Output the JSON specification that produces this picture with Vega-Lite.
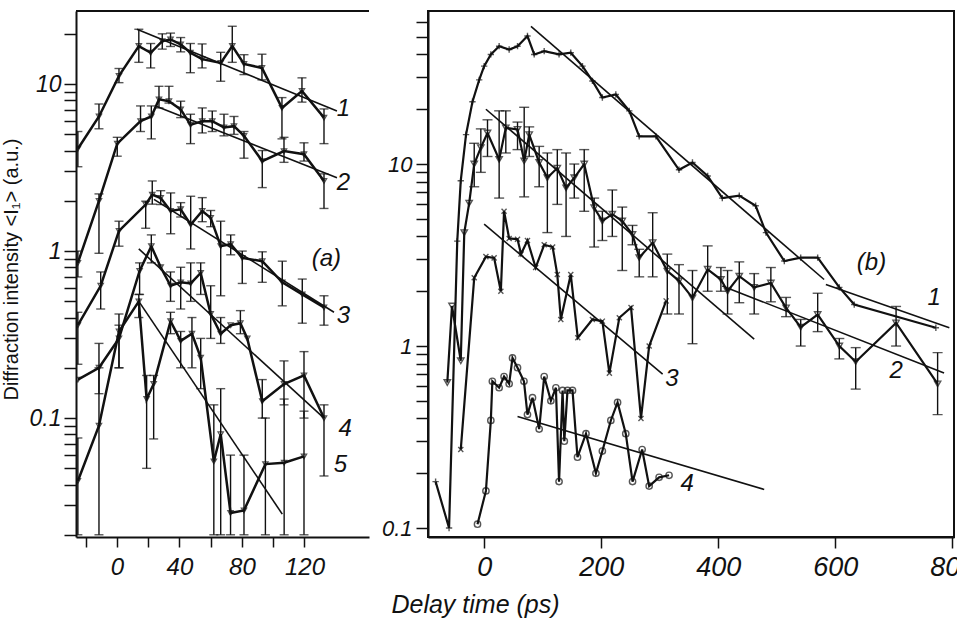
{
  "$schema": "https://vega.github.io/schema/vega-lite/v6.json",
  "background": "white",
  "padding": {"left": 1, "top": 10, "right": 0, "bottom": 0},
  "config": {
    "view": {"stroke": null},
    "axis": {"domainColor": "#111", "tickColor": "#111", "labelColor": "#111", "titleColor": "#111", "grid": false, "labelFont": "Liberation Sans", "titleFont": "Liberation Sans", "domainWidth": 2, "tickWidth": 1.5, "labelOverlap": false, "titleFontWeight": "normal"},
    "text": {"font": "Liberation Sans"}
  },
  "datasets": {
    "a": [
      {"s":"a1","x":-25,"y":4.1,"lo":3.2,"hi":5.2},
      {"s":"a1","x":-11.5,"y":6.4,"lo":5.4,"hi":7.6},
      {"s":"a1","x":1.3,"y":11.2,"lo":10.2,"hi":12.4},
      {"s":"a1","x":14,"y":16.9,"lo":13.5,"hi":21.3},
      {"s":"a1","x":21.6,"y":15.4,"lo":12.5,"hi":17.5},
      {"s":"a1","x":29,"y":18.1,"lo":16.2,"hi":20},
      {"s":"a1","x":34.3,"y":18.5,"lo":16.8,"hi":20.2},
      {"s":"a1","x":40.8,"y":17.3,"lo":15.6,"hi":19},
      {"s":"a1","x":47,"y":15.4,"lo":11.7,"hi":17.5},
      {"s":"a1","x":54.5,"y":14.1,"lo":12.5,"hi":17.4},
      {"s":"a1","x":66.4,"y":13.4,"lo":10.4,"hi":15.5},
      {"s":"a1","x":73.8,"y":16.9,"lo":13.5,"hi":22.2},
      {"s":"a1","x":81.3,"y":13.2,"lo":11.4,"hi":15},
      {"s":"a1","x":92.8,"y":12.5,"lo":10.6,"hi":15.1},
      {"s":"a1","x":105.6,"y":7.2,"lo":4.7,"hi":8.3},
      {"s":"a1","x":118.4,"y":9.1,"lo":7.8,"hi":10.9},
      {"s":"a1","x":132.5,"y":6.3,"lo":4.4,"hi":7.1},
      {"s":"a2","x":-25,"y":0.85,"lo":0.7,"hi":1.0},
      {"s":"a2","x":-11.5,"y":2.0,"lo":0.97,"hi":2.2},
      {"s":"a2","x":0.2,"y":4.4,"lo":3.7,"hi":4.8},
      {"s":"a2","x":15.1,"y":6.0,"lo":5.2,"hi":7.4},
      {"s":"a2","x":22,"y":6.4,"lo":4.7,"hi":7.4},
      {"s":"a2","x":26.9,"y":8.1,"lo":7.2,"hi":9.7},
      {"s":"a2","x":33.3,"y":7.9,"lo":7.7,"hi":9.7},
      {"s":"a2","x":40.8,"y":7.05,"lo":6.3,"hi":7.9},
      {"s":"a2","x":47.1,"y":5.7,"lo":4.4,"hi":6.6},
      {"s":"a2","x":54.6,"y":6.0,"lo":5.1,"hi":7.2},
      {"s":"a2","x":61,"y":6.0,"lo":5.2,"hi":6.9},
      {"s":"a2","x":68.5,"y":5.5,"lo":4.9,"hi":6.6},
      {"s":"a2","x":74.9,"y":5.6,"lo":5.0,"hi":6.4},
      {"s":"a2","x":81.3,"y":4.9,"lo":3.6,"hi":5.2},
      {"s":"a2","x":93,"y":3.46,"lo":2.4,"hi":4.0},
      {"s":"a2","x":106.9,"y":3.97,"lo":3.4,"hi":4.8},
      {"s":"a2","x":119.7,"y":3.8,"lo":3.46,"hi":4.45},
      {"s":"a2","x":132.5,"y":2.63,"lo":1.8,"hi":2.9},
      {"s":"a3","x":-25,"y":0.36,"lo":0.21,"hi":0.43},
      {"s":"a3","x":-10.4,"y":0.62,"lo":0.45,"hi":0.75},
      {"s":"a3","x":1.3,"y":1.32,"lo":1.07,"hi":1.51},
      {"s":"a3","x":18.4,"y":1.9,"lo":1.37,"hi":1.99},
      {"s":"a3","x":22.6,"y":2.18,"lo":1.91,"hi":2.63},
      {"s":"a3","x":28,"y":2.08,"lo":1.9,"hi":2.3},
      {"s":"a3","x":34.4,"y":1.74,"lo":1.27,"hi":2.23},
      {"s":"a3","x":40.8,"y":1.78,"lo":1.6,"hi":1.95},
      {"s":"a3","x":47.2,"y":1.44,"lo":1.03,"hi":2.13},
      {"s":"a3","x":54.6,"y":1.74,"lo":1.5,"hi":2.09},
      {"s":"a3","x":60,"y":1.58,"lo":1.4,"hi":1.75},
      {"s":"a3","x":66.4,"y":1.07,"lo":0.54,"hi":1.51},
      {"s":"a3","x":72.8,"y":1.1,"lo":0.95,"hi":1.25},
      {"s":"a3","x":80.2,"y":0.91,"lo":0.64,"hi":1.0},
      {"s":"a3","x":93,"y":0.87,"lo":0.65,"hi":0.99},
      {"s":"a3","x":105.8,"y":0.65,"lo":0.47,"hi":0.87},
      {"s":"a3","x":118.6,"y":0.55,"lo":0.37,"hi":0.68},
      {"s":"a3","x":132.5,"y":0.46,"lo":0.36,"hi":0.54},
      {"s":"a4","x":-25,"y":0.17},
      {"s":"a4","x":-11.5,"y":0.2,"lo":0.14,"hi":0.28},
      {"s":"a4","x":1.3,"y":0.3,"lo":0.2,"hi":0.36},
      {"s":"a4","x":14.5,"y":0.76,"lo":0.55,"hi":0.85},
      {"s":"a4","x":22,"y":1.07,"lo":0.85,"hi":1.25},
      {"s":"a4","x":28,"y":0.8},
      {"s":"a4","x":34.3,"y":0.62,"lo":0.5,"hi":0.75},
      {"s":"a4","x":40.8,"y":0.65,"lo":0.45,"hi":0.8},
      {"s":"a4","x":47.2,"y":0.64,"lo":0.5,"hi":0.85},
      {"s":"a4","x":53.6,"y":0.74,"lo":0.55,"hi":0.85},
      {"s":"a4","x":60,"y":0.42,"lo":0.3,"hi":0.62},
      {"s":"a4","x":66.4,"y":0.32,"lo":0.28,"hi":0.4},
      {"s":"a4","x":72.8,"y":0.36},
      {"s":"a4","x":79,"y":0.37,"lo":0.32,"hi":0.44},
      {"s":"a4","x":83.4,"y":0.3},
      {"s":"a4","x":93,"y":0.126,"lo":0.1,"hi":0.17},
      {"s":"a4","x":106.9,"y":0.16,"lo":0.12,"hi":0.22},
      {"s":"a4","x":119.7,"y":0.18,"lo":0.1,"hi":0.25},
      {"s":"a4","x":132.5,"y":0.1,"lo":0.045,"hi":0.12},
      {"s":"a5","x":-25,"y":0.042,"lo":0.02,"hi":0.076},
      {"s":"a5","x":-11.5,"y":0.09,"lo":0.02,"hi":0.2},
      {"s":"a5","x":1.3,"y":0.33,"lo":0.2,"hi":0.42},
      {"s":"a5","x":14,"y":0.5,"lo":0.4,"hi":0.55},
      {"s":"a5","x":19,"y":0.13,"lo":0.05,"hi":0.18},
      {"s":"a5","x":23.5,"y":0.16,"lo":0.075,"hi":0.18},
      {"s":"a5","x":34.3,"y":0.38,"lo":0.32,"hi":0.43},
      {"s":"a5","x":40.8,"y":0.29,"lo":0.2,"hi":0.33},
      {"s":"a5","x":48,"y":0.32,"lo":0.2,"hi":0.4},
      {"s":"a5","x":53.6,"y":0.23,"lo":0.15,"hi":0.3},
      {"s":"a5","x":62,"y":0.055,"lo":0.02,"hi":0.12},
      {"s":"a5","x":66.4,"y":0.08,"lo":0.02,"hi":0.15},
      {"s":"a5","x":72.7,"y":0.027,"lo":0.02,"hi":0.06},
      {"s":"a5","x":81.3,"y":0.028,"lo":0.02,"hi":0.06},
      {"s":"a5","x":95,"y":0.053,"lo":0.02,"hi":0.1},
      {"s":"a5","x":107,"y":0.054,"lo":0.02,"hi":0.13},
      {"s":"a5","x":119.7,"y":0.059,"lo":0.02,"hi":0.11}
    ],
    "afit": [
      {"f":"1","x":12.8,"y":21.3},{"f":"1","x":140.8,"y":6.9},
      {"f":"2","x":24.7,"y":7.4},{"f":"2","x":140.8,"y":2.75},
      {"f":"3","x":23.7,"y":2.04},{"f":"3","x":138.9,"y":0.43},
      {"f":"4","x":14,"y":1.03},{"f":"4","x":132.5,"y":0.1},
      {"f":"5","x":14,"y":0.5},{"f":"5","x":105.8,"y":0.0266}
    ],
    "alab": [
      {"t":"1","x":145,"y":7.1},
      {"t":"2","x":145,"y":2.55},
      {"t":"3","x":145,"y":0.41},
      {"t":"4","x":146,"y":0.086},
      {"t":"5","x":143,"y":0.052},
      {"t":"(a)","x":134,"y":0.9}
    ],
    "b": [
      {"s":"b1","x":-83,"y":0.18},
      {"s":"b1","x":-60,"y":0.1},
      {"s":"b1","x":-46,"y":3.77},
      {"s":"b1","x":-40,"y":8.1},
      {"s":"b1","x":-31,"y":14.5},
      {"s":"b1","x":-20,"y":22},
      {"s":"b1","x":-8.5,"y":29},
      {"s":"b1","x":0,"y":34.5},
      {"s":"b1","x":11.4,"y":40},
      {"s":"b1","x":25.6,"y":44.4},
      {"s":"b1","x":42.7,"y":42.6},
      {"s":"b1","x":57,"y":44.4},
      {"s":"b1","x":74,"y":50.5},
      {"s":"b1","x":85.5,"y":40},
      {"s":"b1","x":102.6,"y":41.7},
      {"s":"b1","x":128,"y":40},
      {"s":"b1","x":148,"y":40.9},
      {"s":"b1","x":168,"y":34.5},
      {"s":"b1","x":185,"y":28.6},
      {"s":"b1","x":202,"y":23.2},
      {"s":"b1","x":225,"y":24.1},
      {"s":"b1","x":248,"y":19.6},
      {"s":"b1","x":265,"y":14.2},
      {"s":"b1","x":293.5,"y":14.2},
      {"s":"b1","x":333,"y":9.3},
      {"s":"b1","x":356,"y":10.2},
      {"s":"b1","x":382,"y":8.6},
      {"s":"b1","x":407,"y":6.5},
      {"s":"b1","x":436,"y":6.7},
      {"s":"b1","x":464,"y":5.9},
      {"s":"b1","x":481.6,"y":4.2},
      {"s":"b1","x":513,"y":2.93},
      {"s":"b1","x":541,"y":3.06},
      {"s":"b1","x":570,"y":3.06},
      {"s":"b1","x":607,"y":2.1},
      {"s":"b1","x":632.5,"y":1.69},
      {"s":"b1","x":772,"y":1.26},
      {"s":"b2","x":-63,"y":0.63},
      {"s":"b2","x":-55,"y":1.66},
      {"s":"b2","x":-40,"y":0.83},
      {"s":"b2","x":-34,"y":4.2},
      {"s":"b2","x":-25.6,"y":6.1},
      {"s":"b2","x":-17,"y":10,"lo":7.5,"hi":13},
      {"s":"b2","x":-5.7,"y":12.3,"lo":9,"hi":15.6},
      {"s":"b2","x":5.7,"y":14.8,"lo":11,"hi":17.5},
      {"s":"b2","x":25.6,"y":10.6,"lo":6.5,"hi":19.6},
      {"s":"b2","x":37,"y":15.8,"lo":11.5,"hi":19.6},
      {"s":"b2","x":57,"y":15.5,"lo":12,"hi":17},
      {"s":"b2","x":68.4,"y":10.4,"lo":6.6,"hi":20.5},
      {"s":"b2","x":77,"y":14.5,"lo":11,"hi":16},
      {"s":"b2","x":94,"y":10.2,"lo":7.5,"hi":12.5},
      {"s":"b2","x":108,"y":8.4,"lo":4.2,"hi":11.5},
      {"s":"b2","x":125,"y":9.5,"lo":6,"hi":12},
      {"s":"b2","x":140,"y":7.4,"lo":4,"hi":11.5},
      {"s":"b2","x":154,"y":8.4,"lo":6.5,"hi":10},
      {"s":"b2","x":171,"y":10,"lo":5.5,"hi":12},
      {"s":"b2","x":188,"y":5.75,"lo":3.5,"hi":6.5},
      {"s":"b2","x":202,"y":4.86,"lo":3.8,"hi":5.5},
      {"s":"b2","x":219,"y":5.3,"lo":4,"hi":7.2},
      {"s":"b2","x":236,"y":4.86,"lo":2.6,"hi":5.8},
      {"s":"b2","x":253.5,"y":4.1,"lo":3.6,"hi":4.6},
      {"s":"b2","x":265,"y":3.06,"lo":2.4,"hi":3.4},
      {"s":"b2","x":288,"y":3.7,"lo":2.4,"hi":5.4},
      {"s":"b2","x":313,"y":2.58,"lo":1.5,"hi":3.2},
      {"s":"b2","x":333,"y":2.28,"lo":1.5,"hi":2.8},
      {"s":"b2","x":356,"y":1.84,"lo":1.03,"hi":2.6},
      {"s":"b2","x":382,"y":2.64,"lo":2.0,"hi":3.55},
      {"s":"b2","x":404.6,"y":2.32,"lo":2.0,"hi":2.7},
      {"s":"b2","x":416,"y":2.0,"lo":1.5,"hi":2.6},
      {"s":"b2","x":436,"y":2.42,"lo":1.73,"hi":2.9},
      {"s":"b2","x":461.5,"y":2.1,"lo":1.5,"hi":2.5},
      {"s":"b2","x":490,"y":2.22,"lo":1.75,"hi":2.7},
      {"s":"b2","x":516,"y":1.62,"lo":1.45,"hi":1.85},
      {"s":"b2","x":541,"y":1.27,"lo":1.0,"hi":1.4},
      {"s":"b2","x":570,"y":1.49,"lo":1.2,"hi":1.95},
      {"s":"b2","x":607,"y":1.0,"lo":0.85,"hi":1.1},
      {"s":"b2","x":635,"y":0.82,"lo":0.58,"hi":0.98},
      {"s":"b2","x":704,"y":1.34,"lo":1.0,"hi":1.65},
      {"s":"b2","x":775,"y":0.62,"lo":0.42,"hi":0.92},
      {"s":"b3","x":-40,"y":0.27},
      {"s":"b3","x":-17,"y":2.37},
      {"s":"b3","x":3,"y":3.1},
      {"s":"b3","x":17,"y":3.05},
      {"s":"b3","x":28.5,"y":2.0},
      {"s":"b3","x":34,"y":5.5},
      {"s":"b3","x":42.7,"y":3.9},
      {"s":"b3","x":57,"y":3.86},
      {"s":"b3","x":63,"y":3.2},
      {"s":"b3","x":74,"y":3.8},
      {"s":"b3","x":88,"y":2.7},
      {"s":"b3","x":102.6,"y":3.6},
      {"s":"b3","x":117,"y":3.5},
      {"s":"b3","x":125,"y":2.47},
      {"s":"b3","x":131,"y":1.4},
      {"s":"b3","x":148,"y":2.47},
      {"s":"b3","x":160,"y":1.11},
      {"s":"b3","x":185,"y":1.4},
      {"s":"b3","x":202,"y":1.37},
      {"s":"b3","x":214,"y":0.71},
      {"s":"b3","x":231,"y":1.43},
      {"s":"b3","x":251,"y":1.63},
      {"s":"b3","x":268,"y":0.4},
      {"s":"b3","x":282,"y":1.0},
      {"s":"b3","x":311,"y":1.77},
      {"s":"b4","x":-11.4,"y":0.105},
      {"s":"b4","x":3,"y":0.16},
      {"s":"b4","x":11.4,"y":0.39},
      {"s":"b4","x":14,"y":0.64},
      {"s":"b4","x":25.6,"y":0.59},
      {"s":"b4","x":34,"y":0.68},
      {"s":"b4","x":42.7,"y":0.62},
      {"s":"b4","x":48.4,"y":0.86},
      {"s":"b4","x":57,"y":0.76},
      {"s":"b4","x":68,"y":0.64},
      {"s":"b4","x":74,"y":0.42},
      {"s":"b4","x":82.6,"y":0.52},
      {"s":"b4","x":94,"y":0.35},
      {"s":"b4","x":102.6,"y":0.68},
      {"s":"b4","x":114,"y":0.5},
      {"s":"b4","x":122.6,"y":0.59},
      {"s":"b4","x":128,"y":0.18},
      {"s":"b4","x":134,"y":0.57},
      {"s":"b4","x":137,"y":0.3},
      {"s":"b4","x":142.4,"y":0.57},
      {"s":"b4","x":151,"y":0.57},
      {"s":"b4","x":159.5,"y":0.245},
      {"s":"b4","x":174,"y":0.33},
      {"s":"b4","x":191,"y":0.2},
      {"s":"b4","x":202,"y":0.265},
      {"s":"b4","x":216.5,"y":0.39},
      {"s":"b4","x":228,"y":0.49},
      {"s":"b4","x":242,"y":0.33},
      {"s":"b4","x":253.6,"y":0.18},
      {"s":"b4","x":270,"y":0.27},
      {"s":"b4","x":282,"y":0.17},
      {"s":"b4","x":299,"y":0.19},
      {"s":"b4","x":316,"y":0.195}
    ],
    "bfit": [
      {"f":"1a","x":80,"y":57},{"f":"1a","x":581,"y":2.32},
      {"f":"1b","x":584,"y":2.18},{"f":"1b","x":795,"y":1.26},
      {"f":"2a","x":3,"y":20},{"f":"2a","x":461.5,"y":1.09},
      {"f":"2b","x":407,"y":2.14},{"f":"2b","x":786,"y":0.71},
      {"f":"3","x":0,"y":4.67},{"f":"3","x":305,"y":0.7},
      {"f":"4","x":57,"y":0.41},{"f":"4","x":478.6,"y":0.163}
    ],
    "blab": [
      {"t":"1","x":769,"y":1.84},
      {"t":"2","x":704,"y":0.73},
      {"t":"3","x":321,"y":0.66},
      {"t":"4","x":347,"y":0.175},
      {"t":"(b)","x":662,"y":2.86}
    ]
  },
  "bounds": "flush",
  "spacing": 59,
  "hconcat": [
    {
      "width": 293,
      "height": 526,
      "layer": [
        {
          "data": {"name": "a"},
          "transform": [{"filter": "isValid(datum.lo)"}],
          "mark": {"type": "rule", "color": "#111", "strokeWidth": 1.4, "clip": true},
          "encoding": {
            "x": {"field": "x", "type": "quantitative",
                  "scale": {"domain": [-26.2, 161.3], "nice": false, "zero": false},
                  "axis": {"values": [-20, 0, 20, 40, 60, 80, 100, 120], "labelExpr": "(datum.value % 40 == 0 && datum.value >= 0) ? datum.label : ''", "tickSize": 10, "labelFontSize": 24, "labelFontStyle": "italic", "labelPadding": 8, "title": null}},
            "y": {"field": "lo", "type": "quantitative",
                  "scale": {"type": "log", "domain": [0.0194, 27.4], "nice": false},
                  "axis": {"values": [0.02,0.03,0.04,0.05,0.06,0.07,0.08,0.09,0.1,0.2,0.3,0.4,0.5,0.6,0.7,0.8,0.9,1,2,3,4,5,6,7,8,9,10,20],
                           "labelExpr": "datum.value == 0.1 ? '0.1' : datum.value == 1 ? '1' : datum.value == 10 ? '10' : ''",
                           "tickSize": 12, "labelFontSize": 23, "labelFontStyle": "italic", "labelPadding": 3,
                           "title": "Diffraction intensity <I₁> (a.u.)", "titleFontSize": 20, "titlePadding": 8, "titleY": 258}},
            "y2": {"field": "hi"}
          }
        },
        {
          "data": {"name": "a"},
          "transform": [{"filter": "isValid(datum.lo)"}],
          "mark": {"type": "tick", "orient": "horizontal", "size": 9, "thickness": 1.4, "color": "#111", "clip": true},
          "encoding": {"x": {"field": "x", "type": "quantitative"}, "y": {"field": "lo", "type": "quantitative"}}
        },
        {
          "data": {"name": "a"},
          "transform": [{"filter": "isValid(datum.hi)"}],
          "mark": {"type": "tick", "orient": "horizontal", "size": 9, "thickness": 1.4, "color": "#111", "clip": true},
          "encoding": {"x": {"field": "x", "type": "quantitative"}, "y": {"field": "hi", "type": "quantitative"}}
        },
        {
          "data": {"name": "a"},
          "mark": {"type": "line", "color": "#111", "strokeWidth": 2.5, "clip": true},
          "encoding": {"x": {"field": "x", "type": "quantitative"}, "y": {"field": "y", "type": "quantitative"}, "detail": {"field": "s"}, "order": {"field": "x", "type": "quantitative"}}
        },
        {
          "data": {"name": "a"},
          "mark": {"type": "point", "shape": "triangle-down", "size": 28, "filled": false, "color": "#111", "strokeWidth": 1.3, "clip": true},
          "encoding": {"x": {"field": "x", "type": "quantitative"}, "y": {"field": "y", "type": "quantitative"}}
        },
        {
          "data": {"name": "afit"},
          "mark": {"type": "line", "color": "#111", "strokeWidth": 1.6, "clip": true},
          "encoding": {"x": {"field": "x", "type": "quantitative"}, "y": {"field": "y", "type": "quantitative"}, "detail": {"field": "f"}}
        },
        {
          "data": {"name": "alab"},
          "mark": {"type": "text", "fontSize": 24, "fontStyle": "italic", "color": "#111", "align": "center", "baseline": "middle"},
          "encoding": {"x": {"field": "x", "type": "quantitative"}, "y": {"field": "y", "type": "quantitative"}, "text": {"field": "t"}}
        },
        {
          "data": {"values": [{}]},
          "mark": {"type": "rule", "color": "#111", "strokeWidth": 2},
          "encoding": {"y": {"datum": 27.4}}
        }
      ]
    },
    {
      "width": 526,
      "height": 526,
      "view": {"stroke": "#111", "strokeWidth": 2},
      "layer": [
        {
          "data": {"name": "b"},
          "transform": [{"filter": "isValid(datum.lo)"}],
          "mark": {"type": "rule", "color": "#111", "strokeWidth": 1.4, "clip": true},
          "encoding": {
            "x": {"field": "x", "type": "quantitative",
                  "scale": {"domain": [-96, 803], "nice": false, "zero": false},
                  "axis": {"values": [0, 200, 400, 600, 800], "tickSize": 11, "labelFontSize": 27, "labelFontStyle": "italic", "labelPadding": 6,
                           "title": "Delay time (ps)", "titleFontSize": 25, "titleFontStyle": "italic", "titleX": 47, "titlePadding": 12}},
            "y": {"field": "lo", "type": "quantitative",
                  "scale": {"type": "log", "domain": [0.0893, 69.3], "nice": false},
                  "axis": {"values": [0.1,0.2,0.3,0.4,0.5,0.6,0.7,0.8,0.9,1,2,3,4,5,6,7,8,9,10,20,30,40,50,60],
                           "labelExpr": "datum.value == 0.1 ? '0.1' : datum.value == 1 ? '1' : datum.value == 10 ? '10' : ''",
                           "tickSize": 12, "labelFontSize": 22, "labelFontStyle": "italic", "labelPadding": 4, "title": null}},
            "y2": {"field": "hi"}
          }
        },
        {
          "data": {"name": "b"},
          "transform": [{"filter": "isValid(datum.lo)"}],
          "mark": {"type": "tick", "orient": "horizontal", "size": 10, "thickness": 1.4, "color": "#111", "clip": true},
          "encoding": {"x": {"field": "x", "type": "quantitative"}, "y": {"field": "lo", "type": "quantitative"}}
        },
        {
          "data": {"name": "b"},
          "transform": [{"filter": "isValid(datum.hi)"}],
          "mark": {"type": "tick", "orient": "horizontal", "size": 10, "thickness": 1.4, "color": "#111", "clip": true},
          "encoding": {"x": {"field": "x", "type": "quantitative"}, "y": {"field": "hi", "type": "quantitative"}}
        },
        {
          "data": {"name": "b"},
          "mark": {"type": "line", "color": "#111", "strokeWidth": 2.2, "clip": true},
          "encoding": {"x": {"field": "x", "type": "quantitative"}, "y": {"field": "y", "type": "quantitative"}, "detail": {"field": "s"}, "order": {"field": "x", "type": "quantitative"}}
        },
        {
          "data": {"name": "b"},
          "mark": {"type": "point", "filled": false, "color": "#111", "strokeWidth": 1.4, "size": 40, "clip": true},
          "encoding": {"x": {"field": "x", "type": "quantitative"}, "y": {"field": "y", "type": "quantitative"},
                       "shape": {"field": "s", "type": "nominal", "legend": null,
                                 "scale": {"domain": ["b1", "b2", "b3", "b4"], "range": ["M-1,0L1,0M0,-1L0,1", "triangle-down", "M-0.8,-0.8L0.8,0.8M-0.8,0.8L0.8,-0.8", "circle"]}}}
        },
        {
          "data": {"name": "bfit"},
          "mark": {"type": "line", "color": "#111", "strokeWidth": 1.6, "clip": true},
          "encoding": {"x": {"field": "x", "type": "quantitative"}, "y": {"field": "y", "type": "quantitative"}, "detail": {"field": "f"}}
        },
        {
          "data": {"name": "blab"},
          "mark": {"type": "text", "fontSize": 24, "fontStyle": "italic", "color": "#111", "align": "center", "baseline": "middle"},
          "encoding": {"x": {"field": "x", "type": "quantitative"}, "y": {"field": "y", "type": "quantitative"}, "text": {"field": "t"}}
        }
      ]
    }
  ]
}
